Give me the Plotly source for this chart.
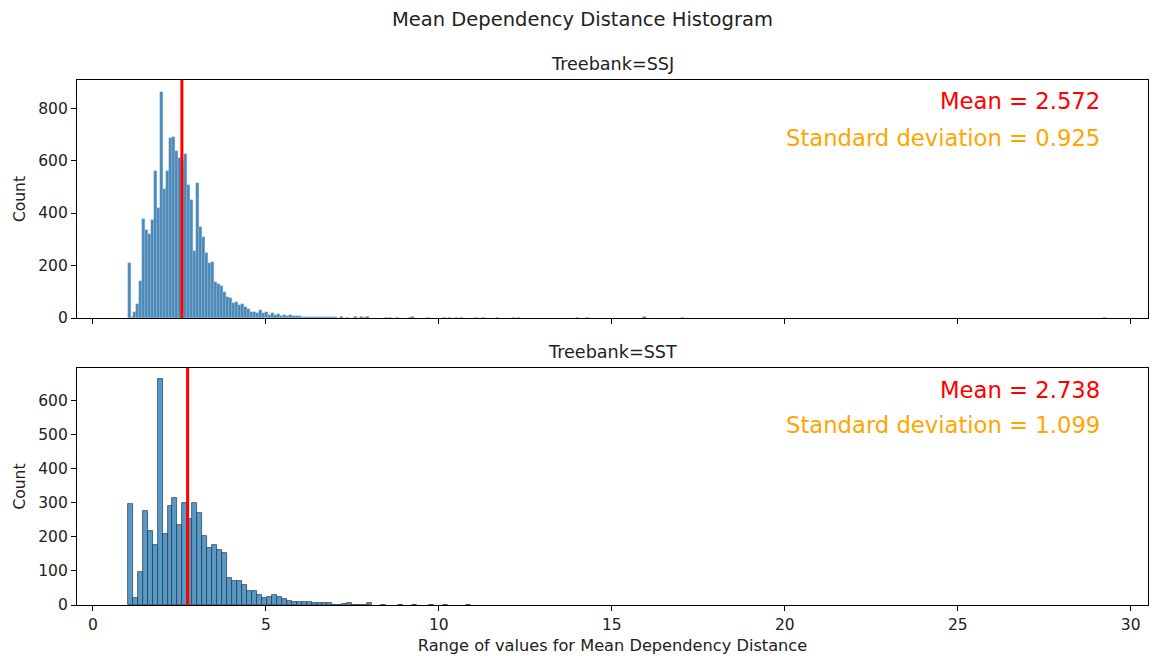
import numpy as np
import plotly.graph_objects as go
from plotly.subplots import make_subplots

# ---------------- data ----------------
bin_start = 1.0

# Treebank=SSJ
ssj_bin_width = 0.0865
ssj_counts = [211, 3, 22, 53, 140, 377, 335, 320, 373, 560, 420, 861, 490, 559, 686,
              691, 637, 608, 600, 625, 507, 450, 256, 515, 348, 310, 249, 208, 212, 138,
              130, 122, 100, 81, 75, 56, 60, 50, 52, 43, 33, 24, 22, 18, 30,
              18, 22, 12, 20, 10, 15, 9, 12, 8, 10, 6, 7, 6, 4, 5,
              3, 5, 4, 3, 4, 2, 3, 2, 4, 2]
ssj_tail_values = [7.2, 7.35, 7.6, 7.75, 7.85, 7.95, 8.5, 8.6, 8.8, 9.15, 9.25, 9.7, 10.15,
                   10.3, 10.5, 10.65, 11.1, 11.3, 11.7, 12.15, 12.3, 14.0, 14.3, 15.95,
                   17.05, 29.25]
ssj_tail_counts = [2, 1, 2, 2, 1, 2, 1, 1, 1, 1, 2, 1, 1,
                   1, 1, 1, 1, 1, 1, 1, 1, 1, 1, 3,
                   1, 1]
ssj_mean, ssj_std = 2.572, 0.925

# Treebank=SST
sst_bin_width = 0.1445
sst_counts = [296, 20, 97, 276, 218, 176, 662, 207, 289, 313, 235, 298, 252, 298, 268,
              203, 168, 176, 161, 151, 80, 71, 69, 58, 41, 40, 29, 20, 22, 29,
              22, 17, 13, 10, 10, 8, 8, 5, 5, 5, 7, 1, 0, 2, 5, 1, 1, 1, 5]
sst_tail_values = [8.4, 8.9, 9.3, 9.8, 10.2, 10.85]
sst_tail_counts = [1, 1, 1, 1, 1, 1]
sst_mean, sst_std = 2.738, 1.099

panel_titles = ["Treebank=SSJ", "Treebank=SST"]
x_ticks = [0, 5, 10, 15, 20, 25, 30]
ssj_y_ticks = [0, 200, 400, 600, 800]
sst_y_ticks = [0, 100, 200, 300, 400, 500, 600]

# ---------------- figure ----------------
W, H = 1152, 656
ml, mr, mt, mb = 77, 4, 80, 51
plot_h = H - mt - mb
top_h, bot_h = 238, 237

fig = make_subplots(rows=2, cols=1, shared_xaxes=False, vertical_spacing=0)

def centers(n, w):
    return bin_start + (np.arange(n) + 0.5) * w

FONT = "DejaVu Sans"

# SSJ bars
fig.add_trace(go.Bar(x=centers(len(ssj_counts), ssj_bin_width), y=ssj_counts,
                     width=ssj_bin_width,
                     marker=dict(color="#4b88b6", line=dict(color="rgba(150,190,222,0.9)", width=0.4)),
                     showlegend=False, hoverinfo="x+y"), row=1, col=1)
fig.add_trace(go.Bar(x=ssj_tail_values, y=ssj_tail_counts, width=ssj_bin_width,
                     marker=dict(color="#4b88b6", line=dict(color="rgba(60,90,120,0.9)", width=0.4)),
                     showlegend=False), row=1, col=1)
# SST bars
fig.add_trace(go.Bar(x=centers(len(sst_counts), sst_bin_width), y=sst_counts,
                     width=sst_bin_width,
                     marker=dict(color="#5799c7", line=dict(color="rgba(35,50,65,0.85)", width=0.8)),
                     showlegend=False), row=2, col=1)
fig.add_trace(go.Bar(x=sst_tail_values, y=sst_tail_counts, width=sst_bin_width,
                     marker=dict(color="#5799c7", line=dict(color="rgba(35,50,65,0.85)", width=0.8)),
                     showlegend=False), row=2, col=1)

x_range = [-0.46, 30.5]
axis_common = dict(showline=True, mirror=True, linecolor="black", linewidth=1.2,
                   ticks="outside", ticklen=5, tickwidth=1.2, tickcolor="black",
                   showgrid=False, zeroline=False,
                   tickfont=dict(family=FONT, size=15.5, color="#222"))

fig.update_layout(
    xaxis=dict(domain=[0, 1], anchor="y", range=x_range, tickvals=x_ticks,
               showticklabels=False, **axis_common),
    yaxis=dict(domain=[(plot_h - top_h) / plot_h, 1], anchor="x", range=[0, 907],
               tickvals=ssj_y_ticks, title=dict(text="Count", standoff=8,
               font=dict(family=FONT, size=15.5, color="#222")), **axis_common),
    xaxis2=dict(domain=[0, 1], anchor="y2", range=x_range, tickvals=x_ticks,
                title=dict(text="Range of values for Mean Dependency Distance", standoff=6,
                           font=dict(family=FONT, size=16.2, color="#222")),
                **axis_common),
    yaxis2=dict(domain=[0, bot_h / plot_h], anchor="x2", range=[0, 694],
                tickvals=sst_y_ticks, title=dict(text="Count", standoff=8,
                font=dict(family=FONT, size=15.5, color="#222")), **axis_common),
    width=W, height=H,
    margin=dict(l=ml, r=mr, t=mt, b=mb),
    plot_bgcolor="white", paper_bgcolor="white",
    barmode="overlay", bargap=0,
    font=dict(family=FONT, color="#222"),
)

# mean lines
for xref, yref, m in [("x", "y domain", ssj_mean), ("x2", "y2 domain", sst_mean)]:
    fig.add_shape(type="line", xref=xref, yref=yref, x0=m, x1=m, y0=0, y1=1,
                  line=dict(color="red", width=3))

# stats annotations
for xref, yref, m, s, ym, ys in [("x domain", "y domain", ssj_mean, ssj_std, 0.912, 0.756),
                                 ("x2 domain", "y2 domain", sst_mean, sst_std, 0.907, 0.759)]:
    fig.add_annotation(xref=xref, yref=yref, x=0.9575, y=ym, xanchor="right", yanchor="middle",
                       text=f"Mean = {m:.3f}", showarrow=False,
                       font=dict(family=FONT, size=22.7, color="red"))
    fig.add_annotation(xref=xref, yref=yref, x=0.9575, y=ys, xanchor="right", yanchor="middle",
                       text=f"Standard deviation = {s:.3f}", showarrow=False,
                       font=dict(family=FONT, size=22.7, color="orange"))

# panel titles
fig.add_annotation(xref="x domain", yref="paper", x=0.5, y=1 + 16 / plot_h, yanchor="middle",
                   text=panel_titles[0], showarrow=False,
                   font=dict(family=FONT, size=17.6, color="#222"))
fig.add_annotation(xref="x2 domain", yref="paper", x=0.5, y=(bot_h + 16) / plot_h, yanchor="middle",
                   text=panel_titles[1], showarrow=False,
                   font=dict(family=FONT, size=17.6, color="#222"))

# suptitle
fig.add_annotation(xref="paper", yref="paper", x=(582 - ml) / (W - ml - mr),
                   y=1 + 60 / plot_h, yanchor="middle",
                   text="Mean Dependency Distance Histogram", showarrow=False,
                   font=dict(family=FONT, size=19.5, color="#222"))

fig.write_html("out.html")
